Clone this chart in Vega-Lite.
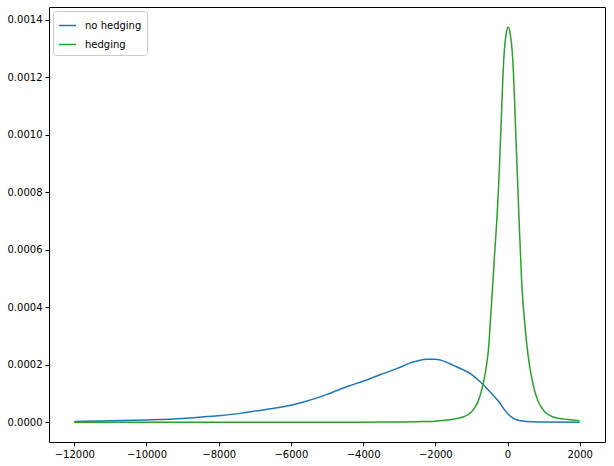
{
  "$schema": "https://vega.github.io/schema/vega-lite/v6.json",
  "width": 556,
  "height": 435,
  "autosize": {"type": "none"},
  "padding": {"left": 49, "top": 7, "right": 9, "bottom": 24},
  "background": "white",
  "config": {
    "font": "DejaVu Sans",
    "view": {"stroke": "black", "strokeWidth": 1},
    "axis": {"grid": false, "domain": false, "tickColor": "black", "tickSize": 4, "labelColor": "black", "labelFontSize": 10, "labelFont": "DejaVu Sans", "title": null, "labelPadding": 3}
  },
  "data": {
    "values": [
      {"x": -12000, "y": 0.000003, "s": "no hedging"},
      {"x": -11000, "y": 0.000005, "s": "no hedging"},
      {"x": -10000, "y": 0.000008, "s": "no hedging"},
      {"x": -9000, "y": 0.000013, "s": "no hedging"},
      {"x": -8300, "y": 0.00002, "s": "no hedging"},
      {"x": -8000, "y": 0.000023, "s": "no hedging"},
      {"x": -7400, "y": 0.000031, "s": "no hedging"},
      {"x": -7000, "y": 0.000039, "s": "no hedging"},
      {"x": -6500, "y": 0.000048, "s": "no hedging"},
      {"x": -6000, "y": 0.000059, "s": "no hedging"},
      {"x": -5600, "y": 0.000072, "s": "no hedging"},
      {"x": -5000, "y": 0.000097, "s": "no hedging"},
      {"x": -4400, "y": 0.000126, "s": "no hedging"},
      {"x": -4000, "y": 0.000143, "s": "no hedging"},
      {"x": -3500, "y": 0.000167, "s": "no hedging"},
      {"x": -3000, "y": 0.00019, "s": "no hedging"},
      {"x": -2750, "y": 0.000204, "s": "no hedging"},
      {"x": -2500, "y": 0.000213, "s": "no hedging"},
      {"x": -2250, "y": 0.000219, "s": "no hedging"},
      {"x": -2000, "y": 0.000219, "s": "no hedging"},
      {"x": -1750, "y": 0.000212, "s": "no hedging"},
      {"x": -1500, "y": 0.000198, "s": "no hedging"},
      {"x": -1250, "y": 0.000184, "s": "no hedging"},
      {"x": -1000, "y": 0.000167, "s": "no hedging"},
      {"x": -750, "y": 0.00014, "s": "no hedging"},
      {"x": -500, "y": 0.000108, "s": "no hedging"},
      {"x": -250, "y": 0.000073, "s": "no hedging"},
      {"x": -50, "y": 0.000038, "s": "no hedging"},
      {"x": 100, "y": 0.000019, "s": "no hedging"},
      {"x": 250, "y": 0.000009, "s": "no hedging"},
      {"x": 450, "y": 0.000004, "s": "no hedging"},
      {"x": 700, "y": 0.000002, "s": "no hedging"},
      {"x": 1000, "y": 0.000001, "s": "no hedging"},
      {"x": 2000, "y": 0.0000005, "s": "no hedging"},
      {"x": -12000, "y": 0.0, "s": "hedging"},
      {"x": -6000, "y": 0.0, "s": "hedging"},
      {"x": -4000, "y": 0.0000005, "s": "hedging"},
      {"x": -3000, "y": 0.000001, "s": "hedging"},
      {"x": -2500, "y": 0.000002, "s": "hedging"},
      {"x": -2000, "y": 0.000004, "s": "hedging"},
      {"x": -1600, "y": 0.000009, "s": "hedging"},
      {"x": -1360, "y": 0.000014, "s": "hedging"},
      {"x": -1200, "y": 0.00002, "s": "hedging"},
      {"x": -1000, "y": 0.000036, "s": "hedging"},
      {"x": -900, "y": 0.000052, "s": "hedging"},
      {"x": -800, "y": 0.000078, "s": "hedging"},
      {"x": -700, "y": 0.00012, "s": "hedging"},
      {"x": -640, "y": 0.000155, "s": "hedging"},
      {"x": -580, "y": 0.0002, "s": "hedging"},
      {"x": -530, "y": 0.00025, "s": "hedging"},
      {"x": -470, "y": 0.00036, "s": "hedging"},
      {"x": -414, "y": 0.00047, "s": "hedging"},
      {"x": -350, "y": 0.0006, "s": "hedging"},
      {"x": -284, "y": 0.00073, "s": "hedging"},
      {"x": -230, "y": 0.00087, "s": "hedging"},
      {"x": -180, "y": 0.00103, "s": "hedging"},
      {"x": -135, "y": 0.00118, "s": "hedging"},
      {"x": -90, "y": 0.00129, "s": "hedging"},
      {"x": -40, "y": 0.00135, "s": "hedging"},
      {"x": 20, "y": 0.001375, "s": "hedging"},
      {"x": 75, "y": 0.00135, "s": "hedging"},
      {"x": 130, "y": 0.00129, "s": "hedging"},
      {"x": 177, "y": 0.00118, "s": "hedging"},
      {"x": 215, "y": 0.00105, "s": "hedging"},
      {"x": 255, "y": 0.00092, "s": "hedging"},
      {"x": 315, "y": 0.00072, "s": "hedging"},
      {"x": 395, "y": 0.00048, "s": "hedging"},
      {"x": 480, "y": 0.00034, "s": "hedging"},
      {"x": 572, "y": 0.00023, "s": "hedging"},
      {"x": 710, "y": 0.00013, "s": "hedging"},
      {"x": 850, "y": 0.000072, "s": "hedging"},
      {"x": 1030, "y": 0.000037, "s": "hedging"},
      {"x": 1200, "y": 0.000022, "s": "hedging"},
      {"x": 1400, "y": 0.000014, "s": "hedging"},
      {"x": 1600, "y": 0.000011, "s": "hedging"},
      {"x": 1800, "y": 0.000008, "s": "hedging"},
      {"x": 2000, "y": 0.0000055, "s": "hedging"}
    ]
  },
  "mark": {"type": "line", "strokeWidth": 1.5, "interpolate": "monotone", "clip": true},
  "encoding": {
    "x": {"field": "x", "type": "quantitative",
      "scale": {"domain": [-12700, 2700], "nice": false, "zero": false},
      "axis": {"values": [-12000, -10000, -8000, -6000, -4000, -2000, 0, 2000], "format": "d"}},
    "y": {"field": "y", "type": "quantitative",
      "scale": {"domain": [-0.0000686, 0.001445], "nice": false, "zero": false},
      "axis": {"values": [0, 0.0002, 0.0004, 0.0006, 0.0008, 0.001, 0.0012, 0.0014], "format": ".4f"}},
    "color": {"field": "s", "type": "nominal",
      "scale": {"domain": ["no hedging", "hedging"], "range": ["#1f77b4", "#2ca02c"]},
      "legend": {"title": null, "orient": "none", "legendX": 4, "legendY": 4,
        "symbolType": "stroke", "symbolSize": 300, "symbolStrokeWidth": 1.5,
        "labelFontSize": 10, "labelFont": "DejaVu Sans", "labelColor": "black",
        "strokeColor": "#cccccc", "fillColor": "white", "cornerRadius": 3, "padding": 5,
        "rowPadding": 4, "labelOffset": 8}}
  }
}
